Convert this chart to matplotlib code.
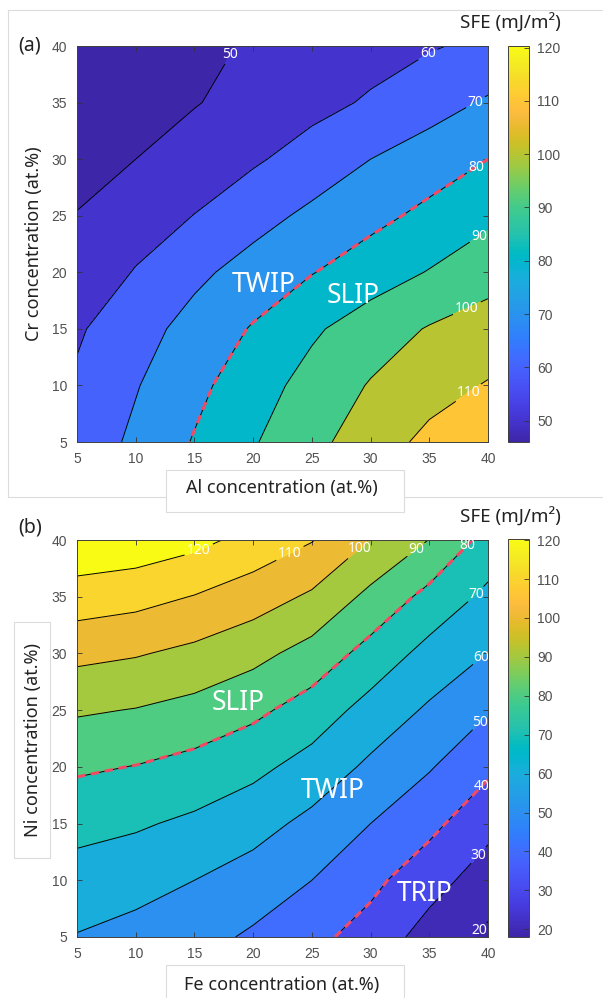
import numpy as np
import matplotlib
matplotlib.use('Agg')
import matplotlib.pyplot as plt
from matplotlib.colors import LinearSegmentedColormap, Normalize
from matplotlib.cm import ScalarMappable
from matplotlib.lines import Line2D
from matplotlib.patches import Rectangle

# composition grid (at.%), same for both panels
conc = [5, 10, 15, 20, 25, 30, 35, 40]

# (a) SFE, rows = Cr 5..40, columns = Al 5..40
sfe_al_cr = [
    [64.0, 71.9, 80.7, 89.2, 97.3, 105.1, 112.5, 120.3],
    [61.4, 69.4, 77.4, 85.7, 93.5, 100.7, 106.2, 110.7],
    [58.8, 66.1, 73.5, 80.8, 88.5, 95.0, 100.7, 104.0],
    [53.3, 60.6, 67.8, 73.9, 79.6, 85.2, 90.5, 96.5],
    [50.15, 55.1, 60.2, 66.4, 72.1, 77.2, 82.4, 87.8],
    [48.5, 50.0, 54.3, 58.7, 64.1, 70.0, 75.0, 80.0],
    [46.8, 48.2, 49.5, 53.3, 57.1, 61.1, 65.8, 71.2],
    [46.0, 47.3, 48.6, 50.6, 53.5, 56.4, 59.2, 62.1],
]

# (b) SFE, rows = Ni 5..40, columns = Fe 5..40
sfe_fe_ni = [
    [59.5, 56.5, 53.5, 48.5, 42.6, 36.0, 26.0, 18.0],
    [66.0, 63.8, 60.0, 55.7, 50.0, 42.5, 33.8, 25.3],
    [73.1, 71.2, 68.1, 63.7, 57.4, 50.0, 42.7, 32.8],
    [81.5, 79.7, 76.8, 72.6, 66.2, 58.1, 50.8, 42.1],
    [91.2, 89.6, 86.8, 82.3, 75.6, 66.3, 58.6, 50.7],
    [102.7, 100.8, 97.6, 93.0, 86.3, 76.5, 66.7, 59.8],
    [115.4, 113.4, 109.6, 104.8, 98.5, 87.4, 77.1, 67.7],
    [128.0, 126.5, 122.9, 116.7, 110.5, 99.8, 89.8, 76.5],
]

levels_a = [50, 60, 70, 80, 90, 100, 110]
levels_b = [20, 30, 40, 50, 60, 70, 80, 90, 100, 110, 120]
phase_lines_a = [80]
phase_lines_b = [40, 80]
clim_a = (46, 120.3)
clim_b = (18, 120.3)
cbar_ticks_a = [50, 60, 70, 80, 90, 100, 110, 120]
cbar_ticks_b = [20, 30, 40, 50, 60, 70, 80, 90, 100, 110, 120]

# parula (64 entries)
parula_data = [
    [0.2422, 0.1504, 0.6603], [0.2504, 0.1650, 0.7076], [0.2578, 0.1818, 0.7511],
    [0.2647, 0.1978, 0.7952], [0.2706, 0.2147, 0.8364], [0.2751, 0.2342, 0.8710],
    [0.2783, 0.2559, 0.8991], [0.2803, 0.2782, 0.9221], [0.2813, 0.3006, 0.9414],
    [0.2810, 0.3228, 0.9579], [0.2795, 0.3447, 0.9717], [0.2760, 0.3667, 0.9829],
    [0.2699, 0.3892, 0.9906], [0.2602, 0.4123, 0.9952], [0.2440, 0.4358, 0.9988],
    [0.2206, 0.4603, 0.9973], [0.1963, 0.4847, 0.9892], [0.1834, 0.5074, 0.9798],
    [0.1786, 0.5289, 0.9682], [0.1764, 0.5499, 0.9520], [0.1687, 0.5703, 0.9359],
    [0.1540, 0.5902, 0.9218], [0.1460, 0.6091, 0.9079], [0.1380, 0.6276, 0.8973],
    [0.1248, 0.6459, 0.8883], [0.1113, 0.6635, 0.8763], [0.0952, 0.6798, 0.8598],
    [0.0689, 0.6948, 0.8394], [0.0297, 0.7082, 0.8163], [0.0036, 0.7203, 0.7917],
    [0.0067, 0.7312, 0.7660], [0.0433, 0.7411, 0.7394], [0.0964, 0.7500, 0.7120],
    [0.1408, 0.7584, 0.6842], [0.1717, 0.7670, 0.6554], [0.1938, 0.7758, 0.6251],
    [0.2161, 0.7843, 0.5923], [0.2470, 0.7918, 0.5567], [0.2906, 0.7973, 0.5188],
    [0.3406, 0.8008, 0.4789], [0.3909, 0.8029, 0.4354], [0.4456, 0.8024, 0.3909],
    [0.5044, 0.7993, 0.3480], [0.5616, 0.7942, 0.3045], [0.6174, 0.7876, 0.2612],
    [0.6720, 0.7793, 0.2227], [0.7242, 0.7698, 0.1910], [0.7738, 0.7598, 0.1646],
    [0.8203, 0.7498, 0.1535], [0.8634, 0.7406, 0.1596], [0.9035, 0.7330, 0.1774],
    [0.9393, 0.7288, 0.2100], [0.9728, 0.7298, 0.2394], [0.9956, 0.7434, 0.2371],
    [0.9970, 0.7659, 0.2199], [0.9952, 0.7893, 0.2028], [0.9892, 0.8136, 0.1885],
    [0.9786, 0.8386, 0.1766], [0.9676, 0.8639, 0.1643], [0.9610, 0.8890, 0.1537],
    [0.9597, 0.9135, 0.1423], [0.9628, 0.9373, 0.1265], [0.9691, 0.9606, 0.1064],
    [0.9769, 0.9839, 0.0805],
]
parula = LinearSegmentedColormap.from_list('parula', parula_data)

W, H = 603, 998
LABEL_FONT = 'Noto Sans'
TICK_FONT = 'Liberation Sans'
TICK_COLOR = '#505050'
RED = '#f04a64'


def fx(px):
    return px / W


def fy(py):
    return 1 - py / H


def draw_panel(ax, cax, Z, levels, clim, red_levels, label_pos, phases, ticks):
    Z = np.array(Z)
    X, Y = np.meshgrid(conc, conc)
    norm = Normalize(*clim)
    # MATLAB style: each band takes the colour of its lower bound
    bounds = [clim[0]] + levels + [max(Z.max(), clim[1]) + 1]
    colors = [parula(np.clip(norm(b), 0, 1)) for b in bounds[:-1]]
    ax.contourf(X, Y, Z, levels=bounds, colors=colors)
    cs = ax.contour(X, Y, Z, levels=levels, colors='k', linewidths=0.7)
    txts = ax.clabel(cs, fmt='%d', colors='white', fontsize=10,
                     manual=label_pos, inline=True, inline_spacing=2)
    for t in txts:
        t.set_rotation(0)
        t.set_family(LABEL_FONT)
    ax.contour(X, Y, Z, levels=red_levels, colors=RED, linewidths=2.2,
               linestyles=[(0, (2.8, 1.8))])
    for name, px, py in phases:
        ax.text(px, py, name, color='white', fontsize=19, family=LABEL_FONT,
                ha='center', va='center')

    ax.set_xlim(5, 40)
    ax.set_ylim(5, 40)
    ax.set_xticks(conc)
    ax.set_yticks(conc)
    ax.tick_params(direction='in', top=True, right=True, length=3.5,
                   width=0.6, color='#333333', labelcolor=TICK_COLOR,
                   labelsize=10, pad=7)
    for lab in ax.get_xticklabels() + ax.get_yticklabels():
        lab.set_family(TICK_FONT)
    for sp in ax.spines.values():
        sp.set_color('#404040')
        sp.set_linewidth(0.7)

    sm = ScalarMappable(norm=norm, cmap=parula)
    cb = plt.colorbar(sm, cax=cax)
    cb.set_ticks(ticks)
    cb.outline.set_edgecolor('#404040')
    cb.outline.set_linewidth(0.7)
    cax.tick_params(direction='in', length=3.5, width=0.6, color='#333333',
                    labelcolor=TICK_COLOR, labelsize=10, pad=6)
    for lab in cax.get_yticklabels():
        lab.set_family(TICK_FONT)


fig = plt.figure(figsize=(W / 100, H / 100), dpi=100)
fig.patch.set_facecolor('white')

# faint frames left from the pasted screenshots
frame = dict(color='#dcdcdc', linewidth=0.8, transform=fig.transFigure)
fig.add_artist(Line2D([fx(8), fx(8)], [fy(10), fy(497)], **frame))
fig.add_artist(Line2D([fx(8), fx(603)], [fy(10), fy(10)], **frame))
fig.add_artist(Line2D([fx(8), fx(166)], [fy(497), fy(497)], **frame))
fig.add_artist(Line2D([fx(404), fx(603)], [fy(497), fy(497)], **frame))
fig.add_artist(Rectangle((fx(166), fy(512)), fx(404) - fx(166), fy(470) - fy(512),
                         transform=fig.transFigure, fc='white', ec='#dcdcdc', lw=0.8))
fig.add_artist(Rectangle((fx(14), fy(858)), fx(50) - fx(14), fy(622) - fy(858),
                         transform=fig.transFigure, fc='white', ec='#dcdcdc', lw=0.8))
fig.add_artist(Rectangle((fx(166), fy(1005)), fx(404) - fx(166), fy(965) - fy(1005),
                         transform=fig.transFigure, fc='white', ec='#dcdcdc', lw=0.8))

ax_a = fig.add_axes([fx(77), fy(442), fx(488) - fx(77), fy(46) - fy(442)])
cax_a = fig.add_axes([fx(508), fy(442), fx(529) - fx(508), fy(46) - fy(442)])
ax_b = fig.add_axes([fx(77), fy(937), fx(488) - fx(77), fy(540) - fy(937)])
cax_b = fig.add_axes([fx(508), fy(937), fx(529) - fx(508), fy(539) - fy(937)])

labels_a = [(18.3, 39.1), (35.1, 38.9), (38.9, 35.1), (38.9, 29.4),
            (38.9, 23.7), (38.0, 17.3), (37.9, 10.0)]
labels_b = [(15.6, 38.6), (23.0, 39.1), (29.1, 39.2), (33.9, 39.1),
            (38.5, 39.2), (39.0, 35.2), (39.0, 30.2), (39.0, 24.3),
            (39.1, 18.6), (39.0, 12.4), (39.0, 5.8)]

draw_panel(ax_a, cax_a, sfe_al_cr, levels_a, clim_a, phase_lines_a, labels_a,
           [('TWIP', 20.9, 18.9), ('SLIP', 28.5, 17.9)], cbar_ticks_a)
draw_panel(ax_b, cax_b, sfe_fe_ni, levels_b, clim_b, phase_lines_b, labels_b,
           [('SLIP', 18.7, 25.6), ('TWIP', 26.8, 17.9), ('TRIP', 34.6, 8.8)],
           cbar_ticks_b)

txt = dict(family=LABEL_FONT, color='#222222', ha='center', va='center')
fig.text(fx(30), fy(46), '(a)', fontsize=14, **txt)
fig.text(fx(30), fy(528), '(b)', fontsize=14, **txt)
fig.text(fx(510), fy(23), 'SFE (mJ/m²)', fontsize=13.5, **txt)
fig.text(fx(510), fy(517), 'SFE (mJ/m²)', fontsize=13.5, **txt)
fig.text(fx(34), fy(244), 'Cr concentration (at.%)', fontsize=13, rotation=90, **txt)
fig.text(fx(282), fy(488), 'Al concentration (at.%)', fontsize=13, **txt)
fig.text(fx(33), fy(740), 'Ni concentration (at.%)', fontsize=13, rotation=90, **txt)
fig.text(fx(282), fy(985), 'Fe concentration (at.%)', fontsize=13, **txt)

fig.savefig('out.png', dpi=100)
